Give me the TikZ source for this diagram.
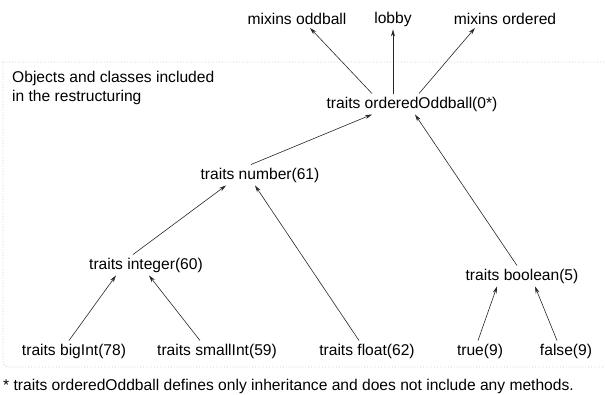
\documentclass[tikz,border=0pt]{standalone}
\usepackage{fontspec}
\setmainfont{Liberation Sans}
\usetikzlibrary{arrows.meta}

\begin{document}
\begin{tikzpicture}[x=1pt, y=-1pt, >={Stealth[length=7pt,width=4pt]},
    obj/.style={inner sep=3pt, font=\fontsize{15.6}{19}\selectfont},
    link/.style={->, line width=0.6pt, black!85}]

    % the page
    \useasboundingbox (0,0) rectangle (605,395);

    % the dotted frame round the restructured part
    \draw[black!22, dotted, line width=0.8pt, rounded corners=6pt]
        (3,62) -- (3,367) -- (612,367) (612,62) -- (3,62);

    % The label in the upper left corner
    \node[obj, anchor=west, align=left] (note) at (9,88)
        {Objects and classes included\\in the restructuring};

    % the top row, outside the frame
    \node[obj] (mixodd) at (297,19) {mixins oddball};
    \node[obj] (lobby)  at (393,19) {lobby};
    \node[obj] (mixord) at (505,19) {mixins ordered};

    % the root of the restructuring
    \node[obj] (ordodd) at (412,104) {traits orderedOddball(0*)};

    % the middle rows
    \node[obj] (number)  at (260,175) {traits number(61)};
    \node[obj] (integer) at (146,265) {traits integer(60)};
    \node[obj] (boolean) at (522,276) {traits boolean(5)};

    % the bottom row
    \node[obj] (bigint)   at (74,351)  {traits bigInt(78)};
    \node[obj] (smallint) at (217,351) {traits smallInt(59)};
    \node[obj] (float)    at (367,351) {traits float(62)};
    \node[obj] (true)     at (480,351) {true(9)};
    \node[obj] (false)    at (566,351) {false(9)};

    % The footnote below the frame
    \node[obj, anchor=west] (foot) at (0,386)
        {* traits orderedOddball defines only inheritance and does not include any methods.};

    % arrows from the root to the top row
    \draw[link] ([xshift=-40pt]ordodd.north) -- ([xshift=13pt]mixodd.south);
    \draw[link] ([xshift=-19pt]ordodd.north) -- ([xshift=0pt]lobby.south);
    \draw[link] ([xshift=7pt]ordodd.north) -- ([xshift=-30pt]mixord.south);

    % arrows to the root
    \draw[link] ([xshift=-9pt]number.north) -- ([xshift=-40pt]ordodd.south);
    \draw[link] ([xshift=-5pt]boolean.north) -- ([xshift=3pt]ordodd.south);

    % arrows to traits number
    \draw[link] ([xshift=-13pt]integer.north) -- ([xshift=-34pt]number.south);
    \draw[link] ([xshift=-8pt]float.north) -- ([xshift=-5pt]number.south);

    % arrows to traits integer
    \draw[link] ([xshift=-5pt]bigint.north) -- ([xshift=-30pt]integer.south);
    \draw[link] ([xshift=-17pt]smallint.north) -- ([xshift=3pt]integer.south);

    % arrows to traits boolean
    \draw[link] ([xshift=-2pt]true.north) -- ([xshift=-25pt]boolean.south);
    \draw[link] ([xshift=-9pt]false.north) -- ([xshift=13pt]boolean.south);
\end{tikzpicture}
\end{document}
